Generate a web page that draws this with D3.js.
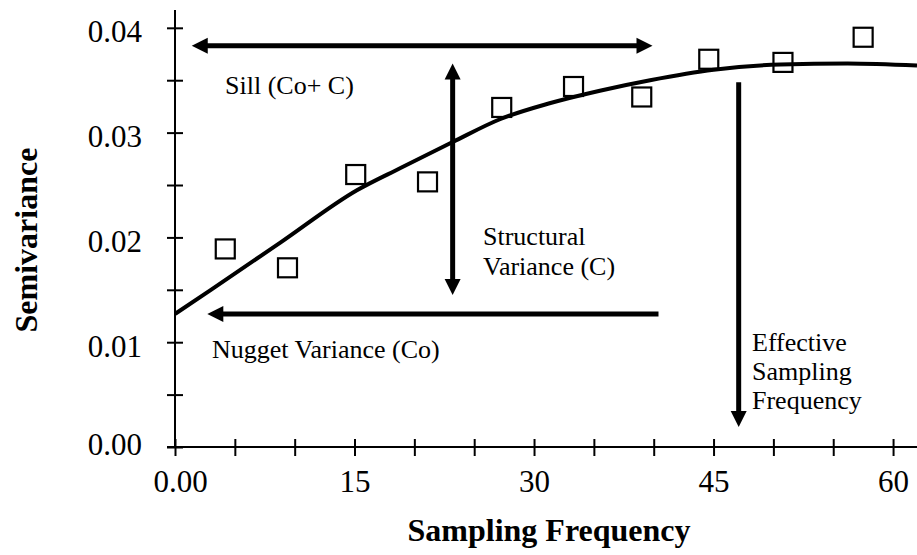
<!DOCTYPE html>
<html>
<head>
<meta charset="utf-8">
<script src="https://cdn.jsdelivr.net/npm/d3@7"></script>
<style>
  html, body { margin: 0; padding: 0; background: #fff; }
  svg { display: block; }
  text { font-family: "Liberation Serif", "Times New Roman", serif; fill: #000; }
</style>
</head>
<body>
<svg id="chart" width="917" height="555"></svg>
<script>
// ---- data ----
const lagValues = [4.2, 9.4, 15.1, 21.1, 27.3, 33.3, 39.0, 44.6, 50.8, 57.5];
const semivarianceValues = [0.0189, 0.0171, 0.0260, 0.0253, 0.0324, 0.0344, 0.0334, 0.0370, 0.0367, 0.0391];

const modelLag = [0, 3, 8.8, 15.2, 18.8, 23.2, 27.2, 31.3, 35.5, 39.7, 45, 50.6, 56.2, 62];
const modelValues = [0.0127, 0.0150, 0.0195, 0.0245, 0.0266, 0.0291, 0.0313, 0.0328, 0.0340, 0.0350, 0.0360, 0.0365, 0.0366, 0.0364];

const xTickValues = [0, 5, 10, 15, 20, 25, 30, 35, 40, 45, 50, 55, 60];
const xTickLabels = {0: "0.00", 15: "15", 30: "30", 45: "45", 60: "60"};
const yTickValues = [0, 0.005, 0.01, 0.015, 0.02, 0.025, 0.03, 0.035, 0.04];
const yTickLabels = {"0": "0.00", "0.01": "0.01", "0.02": "0.02", "0.03": "0.03", "0.04": "0.04"};

const xTitle = "Sampling Frequency";
const yTitle = "Semivariance";

// annotation arrows in data units
const arrowX1 = [1.4, 23.2, 40.4, 47.1];
const arrowY1 = [0.0383, 0.0366, 0.0127, 0.0348];
const arrowX2 = [39.9, 23.2, 2.7, 47.1];
const arrowY2 = [0.0383, 0.0145, 0.0127, 0.0019];
const arrowBothEnds = [true, true, false, false];

// ---- layout ----
const svg = d3.select("#chart");
const mLeft = 175, mRight = 917, mTop = 10, mBottom = 447;

const x = d3.scaleLinear().domain([0, 62]).range([mLeft, mRight]);
const y = d3.scaleLinear().domain([0, 0.0417]).range([mBottom, mTop]);

// axes
const xAxis = d3.axisBottom(x)
  .tickValues(xTickValues)
  .tickSize(9)
  .tickPadding(0)
  .tickFormat(d => xTickLabels[d] || "");
const gx = svg.append("g").attr("transform", `translate(0,${mBottom})`).call(xAxis);
gx.select(".domain").remove();
gx.selectAll(".tick line").attr("y1", -8).attr("y2", 9).attr("stroke", "#000").attr("stroke-width", 2);
gx.selectAll(".tick text")
  .attr("y", 45).attr("dy", null)
  .attr("dx", d => d === 0 ? 5 : 0)
  .style("font-family", '"Liberation Serif", "Times New Roman", serif')
  .style("font-size", "31px").attr("fill", "#000");

const yAxis = d3.axisLeft(y)
  .tickValues(yTickValues)
  .tickSize(8)
  .tickPadding(0)
  .tickFormat(d => yTickLabels[String(+d.toFixed(3))] || "");
const gy = svg.append("g").attr("transform", `translate(${mLeft},0)`).call(yAxis);
gy.select(".domain").remove();
gy.selectAll(".tick line").attr("x1", -8).attr("x2", 8).attr("stroke", "#000").attr("stroke-width", 2);
gy.selectAll(".tick text")
  .attr("x", -33).attr("dy", null)
  .attr("y", d => d === 0 ? 7 : 14)
  .style("font-family", '"Liberation Serif", "Times New Roman", serif')
  .style("font-size", "31px").attr("fill", "#000");

// axis lines
svg.append("line").attr("x1", mLeft - 8).attr("x2", mRight).attr("y1", y(0)).attr("y2", y(0))
  .attr("stroke", "#000").attr("stroke-width", 2);
svg.append("line").attr("x1", mLeft).attr("x2", mLeft).attr("y1", mTop).attr("y2", y(0))
  .attr("stroke", "#000").attr("stroke-width", 2);

// model curve
const line = d3.line().x((d, i) => x(modelLag[i])).y((d, i) => y(modelValues[i])).curve(d3.curveMonotoneX);
svg.append("path").datum(modelValues).attr("d", line)
  .attr("fill", "none").attr("stroke", "#000").attr("stroke-width", 4);

// observed points (open squares)
const sq = 19;
svg.append("g").selectAll("rect").data(semivarianceValues).join("rect")
  .attr("x", (d, i) => x(lagValues[i]) - sq / 2)
  .attr("y", d => y(d) - sq / 2)
  .attr("width", sq).attr("height", sq)
  .attr("fill", "none").attr("stroke", "#000").attr("stroke-width", 2.2);

// arrows
const headLen = 16, headHalf = 8, arrowWidth = 5;
const ga = svg.append("g");
arrowX1.forEach((_, i) => {
  const x1 = x(arrowX1[i]), y1 = y(arrowY1[i]), x2 = x(arrowX2[i]), y2 = y(arrowY2[i]);
  const len = Math.hypot(x2 - x1, y2 - y1);
  const ux = (x2 - x1) / len, uy = (y2 - y1) / len;
  const sx = arrowBothEnds[i] ? x1 + ux * (headLen - 2) : x1;
  const sy = arrowBothEnds[i] ? y1 + uy * (headLen - 2) : y1;
  const ex = x2 - ux * (headLen - 2), ey = y2 - uy * (headLen - 2);
  ga.append("line").attr("x1", sx).attr("y1", sy).attr("x2", ex).attr("y2", ey)
    .attr("stroke", "#000").attr("stroke-width", arrowWidth);
  const head = (tx, ty, dx, dy) => {
    const bx = tx - dx * headLen, by = ty - dy * headLen;
    const px = -dy, py = dx;
    return `M${tx},${ty}L${bx + px * headHalf},${by + py * headHalf}L${bx - px * headHalf},${by - py * headHalf}Z`;
  };
  ga.append("path").attr("d", head(x2, y2, ux, uy)).attr("fill", "#000");
  if (arrowBothEnds[i]) ga.append("path").attr("d", head(x1, y1, -ux, -uy)).attr("fill", "#000");
});

// annotation texts
const ann = [
  {t: "Sill (Co+ C)", x: 225, y: 94, s: 26},
  {t: "Structural", x: 483, y: 245, s: 26},
  {t: "Variance (C)", x: 483, y: 275, s: 26},
  {t: "Nugget Variance (Co)", x: 212, y: 358, s: 26},
  {t: "Effective", x: 752, y: 351, s: 26},
  {t: "Sampling", x: 752, y: 380, s: 26},
  {t: "Frequency", x: 752, y: 409, s: 26}
];
svg.append("g").selectAll("text").data(ann).join("text")
  .attr("x", d => d.x).attr("y", d => d.y)
  .style("font-size", d => d.s + "px")
  .text(d => d.t);

// axis titles
svg.append("text")
  .attr("x", (mLeft + mRight) / 2 + 3).attr("y", 541)
  .attr("text-anchor", "middle")
  .style("font-size", "32px").style("font-weight", "bold")
  .text(xTitle);
svg.append("text")
  .attr("transform", `translate(37,240) rotate(-90)`)
  .attr("text-anchor", "middle")
  .style("font-size", "32px").style("font-weight", "bold")
  .text(yTitle);
</script>
</body>
</html>
